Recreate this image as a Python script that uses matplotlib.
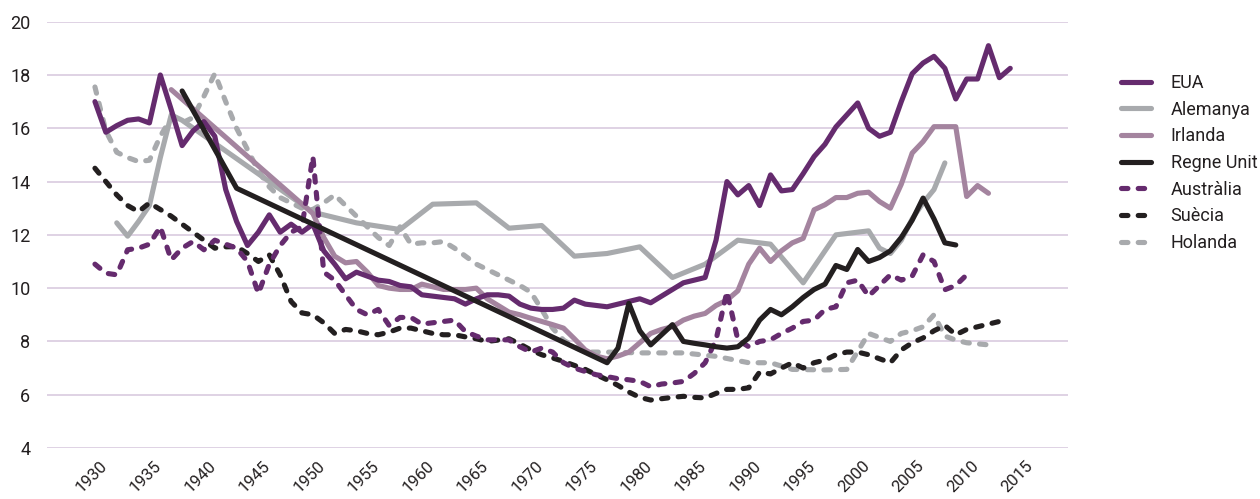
import matplotlib
matplotlib.use("Agg")
import matplotlib.pyplot as plt
from matplotlib.transforms import ScaledTranslation

plt.rcParams['font.family'] = ['Roboto', 'DejaVu Sans']

# ---------------- data ----------------
eua_years = list(range(1930, 2015))
eua_vals = [17.0, 15.85, 16.1, 16.3, 16.35, 16.2, 18.0, 16.7, 15.35, 15.9,
            16.25, 15.7, 13.7, 12.5, 11.6, 12.1, 12.75, 12.1, 12.4, 12.1,
            12.4, 11.4, 10.9, 10.35, 10.6, 10.45, 10.3, 10.25, 10.1, 10.05,
            9.75, 9.7, 9.65, 9.6, 9.4, 9.6, 9.75, 9.75, 9.7, 9.4,
            9.25, 9.2, 9.2, 9.25, 9.55, 9.4, 9.35, 9.3, 9.4, 9.5,
            9.6, 9.45, 9.7, 9.95, 10.2, 10.3, 10.4, 11.8, 14.0, 13.5,
            13.85, 13.1, 14.25, 13.65, 13.7, 14.3, 14.94, 15.4, 16.05, 16.5,
            16.95, 16.0, 15.7, 15.85, 17.0, 18.05, 18.45, 18.7, 18.25, 17.1,
            17.85, 17.85, 19.1, 17.9, 18.25]

ale_years = [1932, 1933, 1934, 1935, 1936, 1937, 1938, 1950, 1954, 1958,
             1961, 1965, 1968, 1971, 1974, 1977, 1980, 1983, 1986, 1989,
             1992, 1995, 1998, 2001, 2002, 2003, 2004, 2005, 2006, 2007, 2008]
ale_vals = [12.45, 11.95, 12.5, 13.1, 14.9, 16.5, 16.3, 12.85, 12.45, 12.2,
            13.15, 13.2, 12.25, 12.35, 11.2, 11.3, 11.55, 10.4, 10.9, 11.8,
            11.65, 10.2, 12.0, 12.15, 11.5, 11.3, 11.8, 12.6, 13.2, 13.7, 14.7]

irl_years = [1937] + list(range(1950, 2013))
irl_vals = [17.45,
            12.8, 11.9, 11.2, 10.95, 11.0, 10.6, 10.1, 10.0, 9.95, 9.95,
            10.15, 10.05, 9.95, 9.95, 9.95, 10.0, 9.6, 9.35, 9.1, 9.0,
            8.87, 8.75, 8.63, 8.5, 8.1, 7.68, 7.45, 7.35, 7.45, 7.6,
            7.95, 8.3, 8.45, 8.55, 8.8, 8.95, 9.05, 9.35, 9.55, 9.9,
            10.9, 11.5, 11.0, 11.4, 11.7, 11.87, 12.94, 13.13, 13.4, 13.4,
            13.56, 13.6, 13.25, 13.0, 13.9, 15.07, 15.5, 16.06, 16.06, 16.06,
            13.44, 13.85, 13.56]

uk_years = [1938, 1943] + list(range(1977, 2010))
uk_vals = [17.4, 13.75,
           7.2, 7.75, 9.43, 8.4, 7.87, 8.25, 8.63, 8.0, 7.93, 7.87,
           7.8, 7.75, 7.8, 8.13, 8.8, 9.2, 9.0, 9.3, 9.65, 9.95,
           10.15, 10.85, 10.7, 11.45, 11.0, 11.15, 11.4, 11.9, 12.55, 13.38,
           12.6, 11.7, 11.62]

aus_years = list(range(1930, 2011))
aus_vals = [10.9, 10.56, 10.5, 11.44, 11.5, 11.65, 12.3, 11.06, 11.5, 11.75,
            11.44, 11.8, 11.65, 11.5, 11.0, 9.8, 10.9, 11.6, 12.1, 12.3,
            14.94, 10.6, 10.3, 9.75, 9.2, 9.0, 9.2, 8.6, 8.9, 8.9,
            8.65, 8.7, 8.75, 8.8, 8.37, 8.2, 8.06, 8.06, 8.06, 7.8,
            7.6, 7.75, 7.6, 7.2, 7.0, 6.87, 6.75, 6.68, 6.6, 6.56,
            6.5, 6.3, 6.4, 6.44, 6.5, 6.8, 7.2, 8.06, 9.87, 8.06,
            7.8, 8.0, 8.06, 8.3, 8.5, 8.75, 8.8, 9.2, 9.3, 10.2,
            10.3, 9.7, 10.1, 10.5, 10.3, 10.45, 11.25, 11.0, 9.94, 10.1,
            10.5]

sue_years = list(range(1930, 2014))
sue_vals = [14.5, 14.0, 13.5, 13.1, 12.87, 13.2, 12.95, 12.7, 12.4, 12.1,
            11.8, 11.5, 11.55, 11.56, 11.3, 11.0, 11.25, 10.5, 9.5, 9.07,
            9.0, 8.7, 8.3, 8.45, 8.4, 8.3, 8.25, 8.35, 8.5, 8.5,
            8.4, 8.3, 8.25, 8.25, 8.17, 8.1, 8.0, 8.05, 8.1, 7.9,
            7.68, 7.5, 7.38, 7.25, 7.1, 6.95, 6.75, 6.56, 6.35, 6.1,
            5.9, 5.8, 5.85, 5.9, 5.94, 5.9, 5.88, 6.05, 6.2, 6.2,
            6.26, 6.85, 6.78, 7.0, 7.2, 7.0, 7.2, 7.3, 7.5, 7.6,
            7.6, 7.5, 7.35, 7.2, 7.68, 7.95, 8.13, 8.4, 8.6, 8.25,
            8.45, 8.55, 8.65, 8.75]

hol_years = list(range(1930, 1976)) + [1977, 1980, 1984, 1987, 1990, 1992, 1994,
                                        1997, 1999, 2001, 2003, 2004, 2005, 2006,
                                        2007, 2008, 2009, 2010, 2012]
hol_vals = [17.55, 15.9, 15.1, 14.9, 14.75, 14.8, 15.7, 16.4, 16.2, 16.4,
            17.2, 18.05, 17.0, 16.0, 15.2, 14.4, 13.8, 13.4, 13.2, 13.0,
            12.95, 13.2, 13.5, 13.1, 12.7, 12.3, 11.9, 11.6, 12.3, 11.65,
            11.7, 11.7, 11.75, 11.5, 11.2, 10.9, 10.7, 10.5, 10.3, 10.1,
            9.85, 9.2, 8.5, 8.05, 7.8, 7.6,
            7.6, 7.57, 7.57, 7.44, 7.2, 7.2, 6.95,
            6.93, 6.95, 8.3, 8.0, 8.3, 8.4, 8.55,
            9.0, 8.2, 8.05, 7.95, 7.87]

series_names = ["EUA", "Alemanya", "Irlanda", "Regne Unit", "Austràlia", "Suècia", "Holanda"]
x_ticks = list(range(1930, 2016, 5))
y_ticks = [4, 6, 8, 10, 12, 14, 16, 18, 20]

# ---------------- style ----------------
PURPLE = "#652b6e"
LGRAY = "#a8aaad"
MAUVE = "#a4849f"
BLACK = "#231f20"
LW = 3.7
DASH = (0, (1.25, 2.0))

fig = plt.figure(figsize=(12.6, 4.99), dpi=100)
ax = fig.add_axes([47 / 1260, 51 / 499, (1068 - 47) / 1260, (477.3 - 51) / 499])

common = dict(lw=LW, solid_capstyle='round', solid_joinstyle='round',
              dash_capstyle='round', dash_joinstyle='round')

lines = {}
lines["Holanda"], = ax.plot(hol_years, hol_vals, color=LGRAY, ls=DASH, **common)
lines["Alemanya"], = ax.plot(ale_years, ale_vals, color=LGRAY, **common)
lines["Irlanda"], = ax.plot(irl_years, irl_vals, color=MAUVE, **common)
lines["Suècia"], = ax.plot(sue_years, sue_vals, color=BLACK, ls=DASH, **common)
lines["Austràlia"], = ax.plot(aus_years, aus_vals, color=PURPLE, ls=DASH, **common)
lines["EUA"], = ax.plot(eua_years, eua_vals, color=PURPLE, **common)
lines["Regne Unit"], = ax.plot(uk_years, uk_vals, color=BLACK, **common)

ax.set_xlim(1925.6, 2019.3)
ax.set_ylim(4, 20)
ax.set_yticks(y_ticks)
ax.set_xticks(x_ticks)
ax.grid(axis='y', color="#dccfe2", lw=1.3)
ax.grid(axis='x', visible=False)
ax.set_axisbelow(True)
for s in ax.spines.values():
    s.set_visible(False)
ax.tick_params(axis='both', length=0, colors="#231f20")
ax.tick_params(axis='y', pad=12, labelsize=13)
ax.tick_params(axis='x', pad=11, labelsize=12)
offset = ScaledTranslation(7 / 72, 0, fig.dpi_scale_trans)
for lab in ax.get_xticklabels():
    lab.set_rotation(45)
    lab.set_ha('right')
    lab.set_va('center')
    lab.set_rotation_mode('anchor')
    lab.set_transform(lab.get_transform() + offset)

handles = [lines[n] for n in series_names]
leg = fig.legend(handles, series_names, loc='upper left',
                 bbox_to_anchor=(1121 / 1260, 1 - 74 / 499),
                 frameon=False, fontsize=13, handlelength=1.65,
                 handletextpad=1.1, labelspacing=0.48, borderpad=0,
                 borderaxespad=0)
for t in leg.get_texts():
    t.set_color("#231f20")

fig.savefig("out.png", dpi=100)
